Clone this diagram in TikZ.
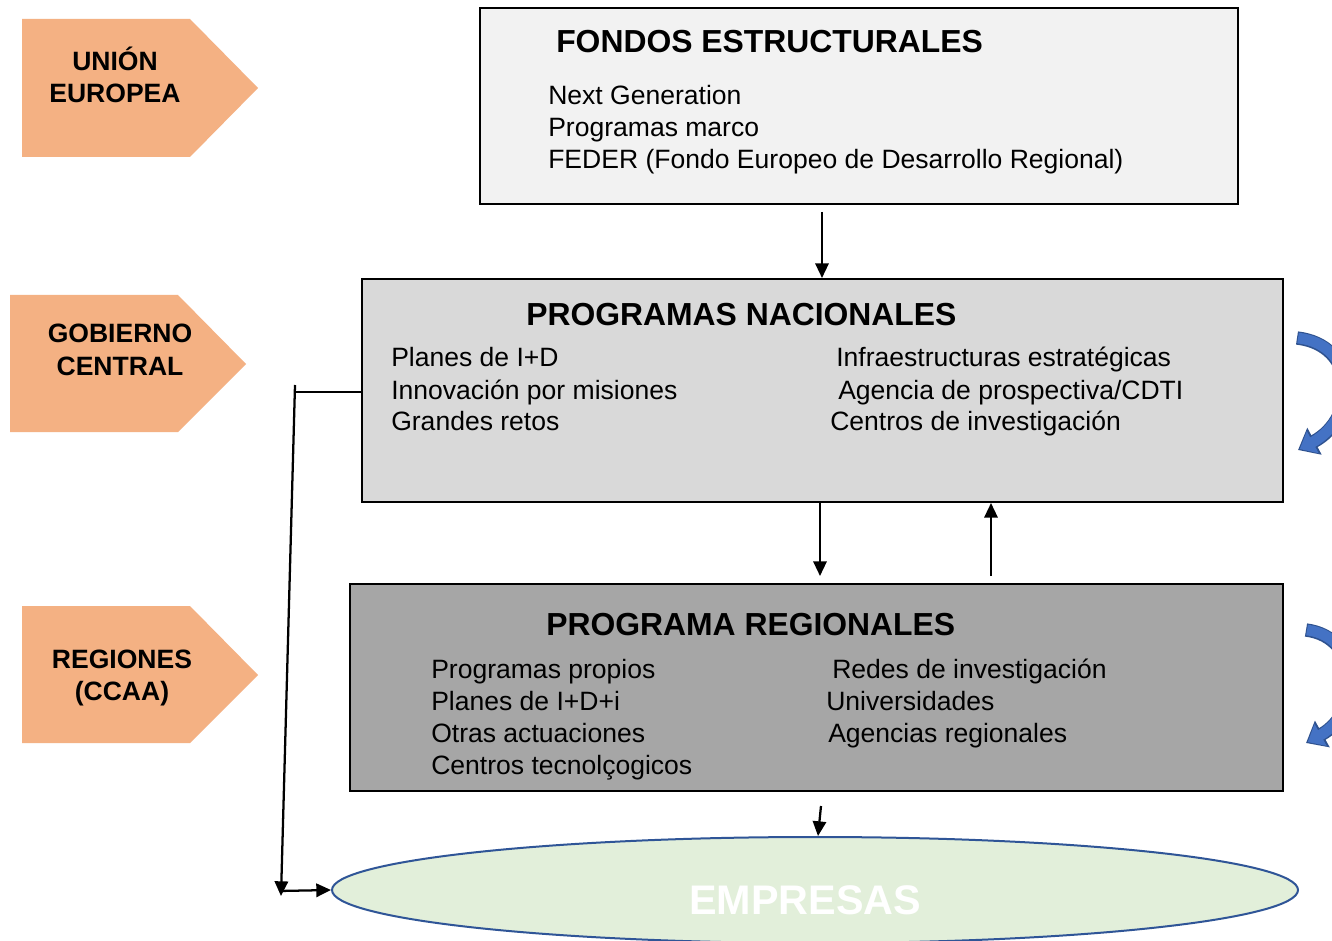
\documentclass[tikz,border=0pt]{standalone}
\usepackage{fontspec}
\setmainfont{Liberation Sans}
\usetikzlibrary{arrows.meta,shapes.geometric}
\definecolor{orangebox}{HTML}{F4B183}
\definecolor{box1}{HTML}{F2F2F2}
\definecolor{box2}{HTML}{D9D9D9}
\definecolor{box3}{HTML}{A6A6A6}
\definecolor{ellfill}{HTML}{E2EFDA}
\definecolor{elldraw}{HTML}{2F5597}
\definecolor{bluearrow}{HTML}{4472C4}
\definecolor{bluedark}{HTML}{2F528F}
\tikzset{
  mainbox/.style={draw=black, line width=1.5pt, rectangle, inner sep=0pt},
  item/.style={anchor=base west, inner sep=0pt, font=\fontsize{19.9pt}{22pt}\selectfont},
  title/.style={anchor=base west, inner sep=0pt, font=\fontsize{23.9pt}{26pt}\selectfont\bfseries},
  lvl/.style={fill=orangebox},
  lvltext/.style={align=center, inner sep=0pt, font=\fontsize{19.9pt}{24.5pt}\selectfont\bfseries},
  arr/.style={line width=1.7pt, -{Triangle[length=11pt,width=10pt]}},
  curvyout/.style={bluedark, line width=10pt, -{Triangle[length=14pt,width=22pt]}},
  curvyin/.style={bluearrow, line width=8pt, -{Triangle[length=11pt,width=18pt]}},
}
\begin{document}
\begin{tikzpicture}[x=0.75pt, y=-0.75pt]
\useasboundingbox (0,0) rectangle (1332,941);
\fill[white] (0,0) rectangle (1332,941);

% level arrows
\fill[lvl] (22,19) -- (190,19) -- (258,88) -- (190,157) -- (22,157) -- cycle;
\node[lvltext] (ue) at (115,75) {UNIÓN\\EUROPEA};
\fill[lvl] (10,295) -- (178,295) -- (246,364) -- (178,432) -- (10,432) -- cycle;
\node[lvltext] (gc) at (120,350) {GOBIERNO\\CENTRAL};
\fill[lvl] (22,606) -- (190,606) -- (258,675) -- (190,743) -- (22,743) -- cycle;
\node[lvltext] (rg) at (122,678) {REGIONES\\(CCAA)};

% boxes
\node[mainbox, fill=box1, minimum width=568.5pt, minimum height=147pt] (fondos) at (859,106) {};
\node[mainbox, fill=box2, minimum width=690.75pt, minimum height=167.25pt] (nac) at (822.5,390.5) {};
\node[mainbox, fill=box3, minimum width=699.75pt, minimum height=155.25pt] (reg) at (816.5,687.5) {};
\node[draw=elldraw, line width=1.5pt, fill=ellfill, ellipse, minimum width=724.5pt, minimum height=79.5pt, inner sep=0pt] (emp) at (815,890) {};
\node[inner sep=0pt, white, font=\fontsize{31pt}{33pt}\selectfont\bfseries] (emptext) at (805,900) {EMPRESAS};

% texts fondos
\node[title] (t1) at (556,53) {FONDOS ESTRUCTURALES};
\node[item] (f1) at (548,105) {Next Generation};
\node[item] (f2) at (548,137) {Programas marco};
\node[item] (f3) at (548,169) {FEDER (Fondo Europeo de Desarrollo Regional)};

% texts nacionales
\node[title] (t2) at (526,326) {PROGRAMAS NACIONALES};
\node[item] (n1) at (391,367) {Planes de I+D};
\node[item] (n2) at (391,399) {Innovación por misiones};
\node[item] (n3) at (391,431) {Grandes retos};
\node[item] (n4) at (836,367) {Infraestructuras estratégicas};
\node[item] (n5) at (838,399) {Agencia de prospectiva/CDTI};
\node[item] (n6) at (830,431) {Centros de investigación};

% texts regionales
\node[title] (t3) at (546,635) {PROGRAMA REGIONALES};
\node[item] (r1) at (431,678) {Programas propios};
\node[item] (r2) at (431,710) {Planes de I+D+i};
\node[item] (r3) at (431,742) {Otras actuaciones};
\node[item] (r4) at (431,774) {Centros tecnolçogicos};
\node[item] (r5) at (832,678) {Redes de investigación};
\node[item] (r6) at (826,710) {Universidades};
\node[item] (r7) at (828,742) {Agencias regionales};

% connectors
\coordinate (a1) at (822,212);
\draw[arr] (a1) -- (a1 |- nac.north);
\coordinate (a2) at (820,576);
\draw[arr] (a2 |- nac.south) -- (a2);
\coordinate (a3) at (991,576);
\draw[arr] (a3) -- (a3 |- nac.south);
\coordinate (a4) at (821,806);
\coordinate (a5) at (818,836);
\draw[arr] (a4) -- (a5);

\coordinate (l1) at (295,392);
\coordinate (l0) at (295,385);
\coordinate (l2) at (281,896);
\coordinate (l3) at (279,891);
\draw[line width=1.2pt] (nac.west |- l1) -- (l1);
\draw[arr] (l0) -- (l2);
\draw[arr] (l3) -- (emp.west);

% curved blue arrows
\coordinate (c1) at (1297,338);
\coordinate (c2) at (1298,450);
\draw[curvyout] (c1) .. controls (1358,345) and (1358,418) .. (c2);
\draw[curvyin, shorten >=1.5pt] ([xshift=0.8pt]c1) .. controls (1358,345) and (1358,418) .. (c2);
\coordinate (c3) at (1306,630);
\coordinate (c4) at (1306,743);
\draw[curvyout] (c3) .. controls (1362,637) and (1362,712) .. (c4);
\draw[curvyin, shorten >=1.5pt] ([xshift=0.8pt]c3) .. controls (1362,637) and (1362,712) .. (c4);
\end{tikzpicture}
\end{document}
